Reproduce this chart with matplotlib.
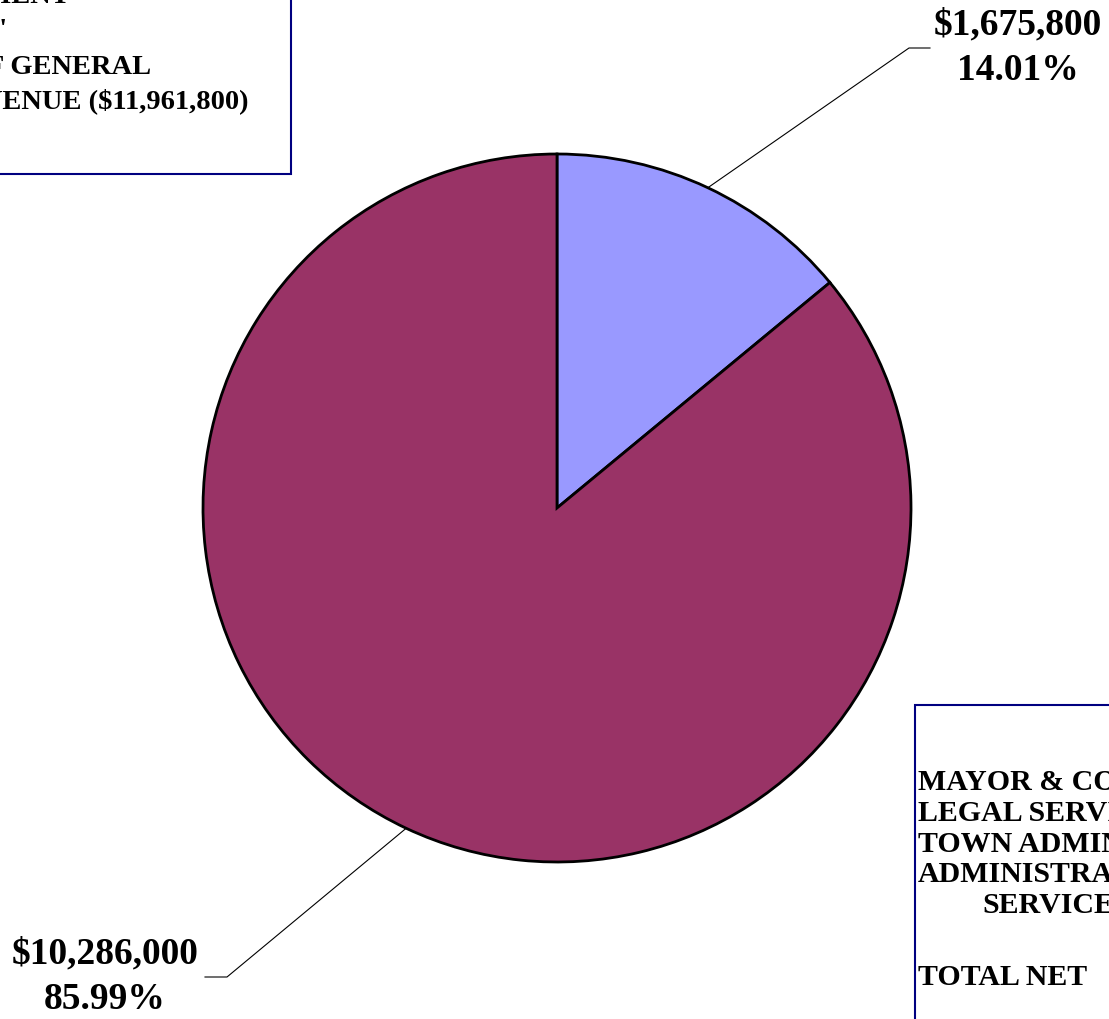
import numpy as np
import matplotlib.pyplot as plt
from matplotlib.patches import Rectangle

# slice values (general fund revenue split)
values = [1675800, 10286000]
colors = ['#9999FF', '#993366']

# text blocks in the two boxes (cut by the picture edges)
title_lines = ["GENERAL GOVERNMENT", "DEPARTMENTS'", "PERCENTAGE OF GENERAL",
               "FUND REVENUE (${:,.0f})".format(sum(values))]
legend_lines = ["MAYOR & COUNCIL", "LEGAL SERVICES", "TOWN ADMINISTRATOR",
                "ADMINISTRATIVE", "SERVICES", "TOTAL NET"]

W, H = 1109, 1019


def py(y):
    # pixel row (top = 0) to data y
    return H - y


fig = plt.figure(figsize=(W / 100, H / 100), dpi=100)
ax = fig.add_axes([0, 0, 1, 1])

cx, cy, r = 557, py(508), 354
wedges, _ = ax.pie(values, colors=colors, startangle=90, counterclock=False,
                   center=(cx, cy), radius=r,
                   wedgeprops=dict(edgecolor='black', linewidth=2.0))

ax.set_xlim(0, W)
ax.set_ylim(0, H)
ax.set_aspect('equal')
ax.axis('off')

font = dict(family='Liberation Serif', weight='bold', color='black')

# data labels with leader lines
total = sum(values)
label_pos = [(1018, 48, 909, 930), (105, 977, 227, 205)]
for w, v, (lx, ly, ex, tx) in zip(wedges, values, label_pos):
    mid = np.deg2rad((w.theta1 + w.theta2) / 2)
    px0, py0 = cx + r * np.cos(mid), cy + r * np.sin(mid)
    ax.plot([px0, ex, tx], [py0, py(ly), py(ly)], color='black', lw=0.8)
    ax.text(lx, py(ly), "${:,.0f}\n{:.2f}%".format(v, v / total * 100),
            ha='center', va='center', fontsize=27, linespacing=1.4, **font)

# title box (top left)
ax.add_patch(Rectangle((-20, py(174)), 311, 200, facecolor='white',
                       edgecolor='#000080', lw=1.5, clip_on=False, zorder=3))
title_right = [70, 8, 151, 248]
title_base = [3, 37, 74, 108]
for s, xr, yb in zip(title_lines, title_right, title_base):
    ax.text(xr, py(yb), s, ha='right', va='baseline', fontsize=20.5,
            zorder=4, **font)

# legend box (bottom right)
ax.add_patch(Rectangle((915, -20), 220, py(705) + 20, facecolor='white',
                       edgecolor='#000080', lw=1.5, clip_on=False, zorder=3))
legend_x = [918, 918, 918, 918, 982, 918]
legend_base = [790, 821, 852, 882, 913, 985]
for s, xl, yb in zip(legend_lines, legend_x, legend_base):
    ax.text(xl, py(yb), s, ha='left', va='baseline', fontsize=21.5,
            zorder=4, **font)

fig.savefig('out.png', dpi=100)
